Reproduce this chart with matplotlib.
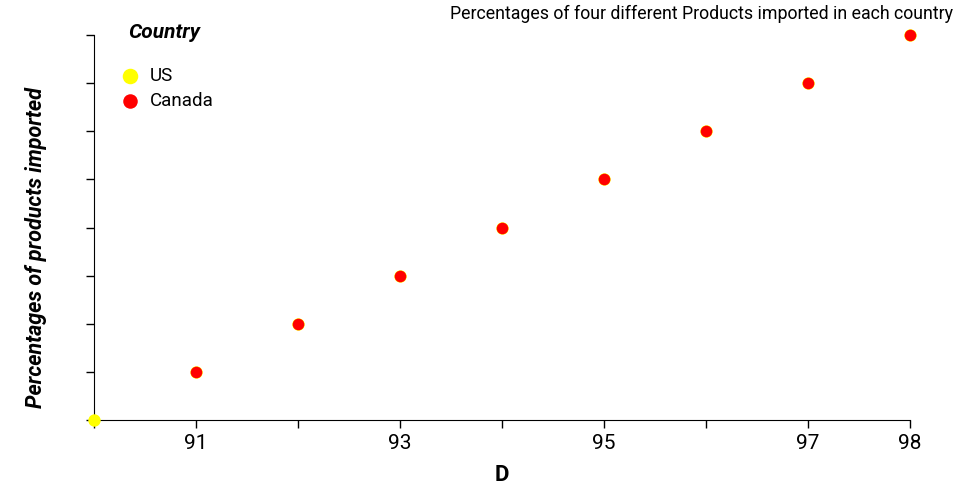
import matplotlib
matplotlib.use("Agg")
import matplotlib.pyplot as plt

us_x = [90, 91, 92, 93, 94, 95, 96, 97, 98]
us_y = [0, 1, 2, 3, 4, 5, 6, 7, 8]
canada_x = [91, 92, 93, 94, 95, 96, 97, 98]
canada_y = [1, 2, 3, 4, 5, 6, 7, 8]
x_ticks = [90, 91, 92, 93, 94, 95, 96, 97, 98]
x_labels = ["", "91", "", "93", "", "95", "", "97", "98"]
y_ticks = [0, 1, 2, 3, 4, 5, 6, 7, 8]

plt.rcParams['font.family'] = ['Roboto', 'DejaVu Sans']

fig = plt.figure(figsize=(9.6, 5.0), dpi=100)
ax = fig.add_axes([94/960, 80/500, 816/960, 385/500])

ax.scatter(us_x, us_y, s=80, color="#ffff00", label="US", clip_on=False, zorder=3, linewidths=0)
ax.scatter(canada_x, canada_y, s=70, color="#ff0000", label="Canada", clip_on=False, zorder=4, linewidths=0)

ax.set_xlim(90, 98)
ax.set_ylim(0, 8)
ax.set_xticks(x_ticks)
ax.set_xticklabels(x_labels, fontsize=15)
ax.set_yticks(y_ticks)
ax.set_yticklabels([])
ax.tick_params(axis='both', length=6, width=1, color='black')
ax.tick_params(axis='x', pad=4)
for s in ["top", "right"]:
    ax.spines[s].set_visible(False)

ax.set_xlabel("D", fontsize=16, fontweight='bold', labelpad=8)
ax.set_ylabel("Percentages of products imported", fontsize=15.5, fontweight='bold', style='italic')
ax.yaxis.set_label_coords(-0.058, 0.447)
fig.text(0.993, 0.972, "Percentages of four different Products imported in each country",
         ha='right', va='center', fontsize=12.8)

leg = ax.legend(loc='upper left', bbox_to_anchor=(0.006, 1.075), frameon=False, title="Country",
                fontsize=13.5, handletextpad=0.3, labelspacing=0.38, markerscale=1.25,
                handlelength=1.5)
leg.get_title().set_fontsize(15)
leg.get_title().set_fontstyle('italic')
leg.get_title().set_fontweight('bold')
leg._legend_box.sep = 18

fig.savefig("out.png", dpi=100)
